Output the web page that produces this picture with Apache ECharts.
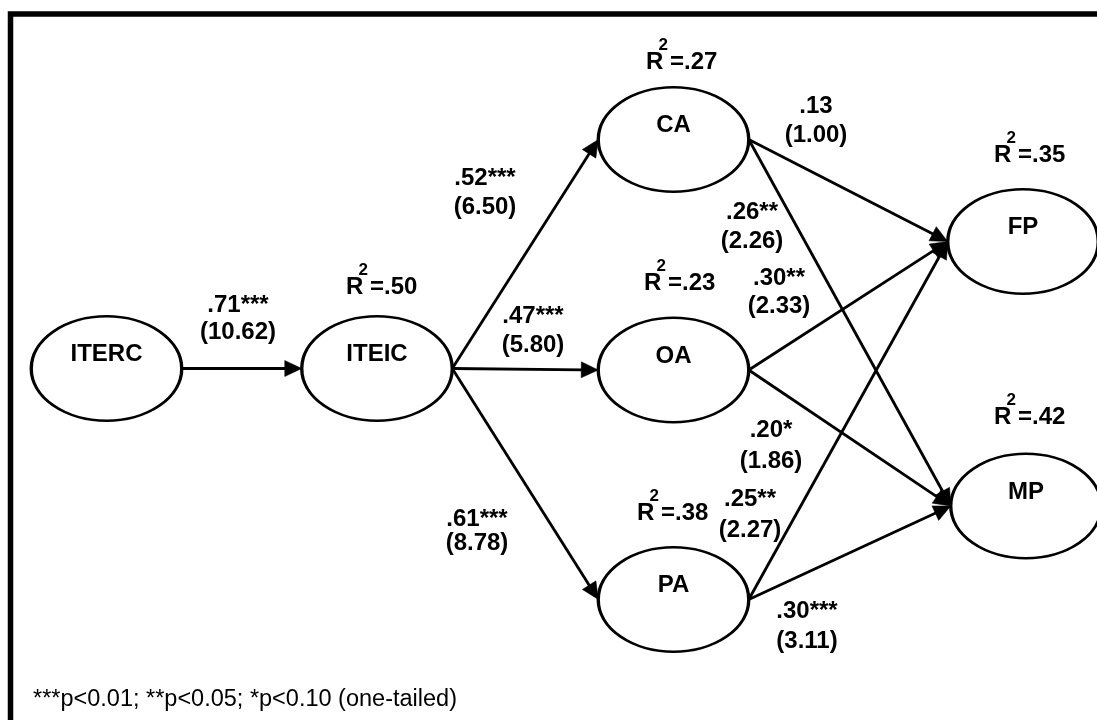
<!DOCTYPE html>
<html>
<head>
<meta charset="utf-8">
<script src="https://cdn.jsdelivr.net/npm/echarts@6/dist/echarts.min.js"></script>
<style>
html,body{margin:0;padding:0;background:#fff;}
#main{width:1097px;height:720px;}
</style>
</head>
<body>
<div id="main"></div>
<script>
// ---- data ----
const nodeNames = ['ITERC', 'ITEIC', 'CA', 'OA', 'PA', 'FP', 'MP'];
const rSquared = ['', '.50', '.27', '.23', '.38', '.35', '.42'];
const pathFrom = ['ITERC', 'ITEIC', 'ITEIC', 'ITEIC', 'CA', 'CA', 'OA', 'OA', 'PA', 'PA'];
const pathTo = ['ITEIC', 'CA', 'OA', 'PA', 'FP', 'MP', 'FP', 'MP', 'FP', 'MP'];
const pathCoefs = ['.71***', '.52***', '.47***', '.61***', '.13', '.26**', '.30**', '.20*', '.25**', '.30***'];
const pathT = ['(10.62)', '(6.50)', '(5.80)', '(8.78)', '(1.00)', '(2.26)', '(2.33)', '(1.86)', '(2.27)', '(3.11)'];
const footnote = '***p<0.01; **p<0.05; *p<0.10 (one-tailed)';

// ---- layout (diagram units on hidden axes) ----
const nodePos = {
  ITERC: [106.5, 368.5], ITEIC: [377, 368.5],
  CA: [673.5, 139.5], OA: [673.5, 370], PA: [673.5, 599.5],
  FP: [1023, 241.5], MP: [1026, 506]
};
const ellipseW = 150.5, ellipseH = 104.5;
const rx = ellipseW / 2;
const edgeLabelPos = [
  [238, 305, 332], [485, 178, 207], [533, 316, 345], [477, 519, 543],
  [816, 106, 135], [752, 212, 241], [779, 278, 306], [771, 430, 461],
  [750, 499, 530], [807, 611, 641]
];
const r2Pos = [null, [346, 287], [646, 62], [644, 283], [637, 513], [994, 155], [994, 417]];

const FONT = '"Liberation Sans", Arial, Helvetica, sans-serif';
const BOLD = 'bold 24px ' + FONT;

const chart = echarts.init(document.getElementById('main'), null, {renderer: 'canvas'});

const option = {
  animation: false,
  backgroundColor: '#fff',
  grid: {left: 0, right: 0, top: 0, bottom: 0, containLabel: false},
  xAxis: {type: 'value', min: 0, max: 1097, show: false},
  yAxis: {type: 'value', min: 0, max: 720, inverse: true, show: false},
  graphic: [
    {type: 'rect', silent: true, z: 100,
     shape: {x: 10.5, y: 14, width: 1400, height: 1000},
     style: {fill: 'none', stroke: '#000', lineWidth: 5.5}},
    {type: 'text', silent: true, x: 33, y: 700,
     style: {text: footnote, font: '23.5px ' + FONT, fill: '#000',
             align: 'left', verticalAlign: 'middle', textAlign: 'left', textVerticalAlign: 'middle'}}
  ],
  series: [
    {
      type: 'custom',
      name: 'paths',
      coordinateSystem: 'cartesian2d',
      silent: true,
      z: 1,
      data: pathCoefs.map((c, i) => ({name: c, value: [edgeLabelPos[i][0], edgeLabelPos[i][1]]})),
      renderItem: function (params, api) {
        const i = params.dataIndex;
        const s = nodePos[pathFrom[i]], t = nodePos[pathTo[i]];
        const p1 = api.coord([s[0] + rx, s[1]]);
        const p2 = api.coord([t[0] - rx, t[1]]);
        const dx = p2[0] - p1[0], dy = p2[1] - p1[1];
        const L = Math.sqrt(dx * dx + dy * dy);
        const ux = dx / L, uy = dy / L;
        const len = 17, hw = 8;
        const bx = p2[0] - ux * len, by = p2[1] - uy * len;
        const tri = [[p2[0], p2[1]], [bx - uy * hw, by + ux * hw], [bx + uy * hw, by - ux * hw]];
        const lp = edgeLabelPos[i];
        const a = api.coord([lp[0], lp[1]]);
        const b = api.coord([lp[0], lp[2]]);
        const txt = (str, pt) => ({
          type: 'text', x: pt[0], y: pt[1],
          style: {text: str, font: BOLD, fill: '#000', align: 'center', verticalAlign: 'middle',
                  textAlign: 'center', textVerticalAlign: 'middle'}
        });
        return {
          type: 'group',
          children: [
            {type: 'line', shape: {x1: p1[0], y1: p1[1], x2: bx + ux, y2: by + uy},
             style: {stroke: '#000', lineWidth: 2.8}},
            {type: 'polygon', shape: {points: tri}, style: {fill: '#000', stroke: '#000', lineWidth: 0.5}},
            txt(pathCoefs[i], a),
            txt(pathT[i], b)
          ]
        };
      }
    },
    {
      type: 'scatter',
      name: 'constructs',
      silent: true,
      z: 2,
      symbol: 'path://M0,50A50,50,0,1,1,100,50A50,50,0,1,1,0,50Z',
      symbolSize: [ellipseW, ellipseH],
      symbolKeepAspect: false,
      itemStyle: {color: '#fff', borderColor: '#000', borderWidth: 2.8, opacity: 1},
      label: {
        show: true, position: 'inside', offset: [0, -14],
        formatter: '{b}', color: '#000', fontFamily: FONT, fontWeight: 'bold', fontSize: 24
      },
      emphasis: {disabled: true},
      data: nodeNames.map(n => ({name: n, value: nodePos[n]}))
    },
    {
      type: 'custom',
      name: 'r2',
      coordinateSystem: 'cartesian2d',
      silent: true,
      z: 3,
      data: nodeNames.map((n, i) => ({name: n, value: r2Pos[i] ? r2Pos[i] : [0, 0]})),
      renderItem: function (params, api) {
        const i = params.dataIndex;
        if (!rSquared[i]) return null;
        const p = api.coord(r2Pos[i]);
        const st = (str, font) => ({text: str, font: font, fill: '#000', align: 'left', verticalAlign: 'middle',
                                    textAlign: 'left', textVerticalAlign: 'middle'});
        return {
          type: 'group',
          children: [
            {type: 'text', x: p[0], y: p[1], style: st('R', BOLD)},
            {type: 'text', x: p[0] + 12.5, y: p[1] - 16.5, style: st('2', 'bold 17px ' + FONT)},
            {type: 'text', x: p[0] + 24, y: p[1], style: st('=' + rSquared[i], BOLD)}
          ]
        };
      }
    }
  ]
};
chart.setOption(option);
</script>
</body>
</html>
